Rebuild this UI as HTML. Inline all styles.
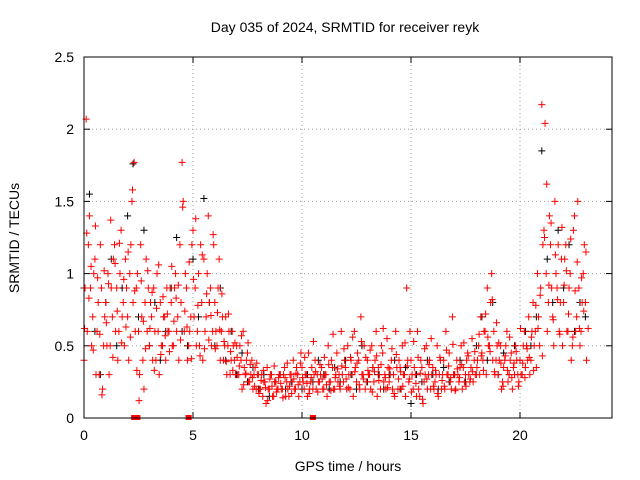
<!DOCTYPE html>
<html><head><meta charset="utf-8"><style>
body{margin:0;background:#fff}
svg{display:block;font-family:"Liberation Sans",sans-serif}
</style></head><body>
<svg id="chart" width="640" height="480">
<rect width="640" height="480" fill="#fff"/>
<text x="345" y="32" text-anchor="middle" font-size="14">Day 035 of 2024, SRMTID for receiver reyk</text>
<text x="348" y="471" text-anchor="middle" font-size="14">GPS time / hours</text>
<text transform="translate(19,238) rotate(-90)" text-anchor="middle" font-size="14">SRMTID / TECUs</text>
<g id="grid"></g>
<g id="ticks"></g>
<g id="black"></g>
<g id="red"></g>
<rect x="84" y="57" width="528" height="361" fill="none" stroke="#000"/>
</svg>
<script>
const xTicks=[0,5,10,15,20];
const yTicks=[0,0.5,1,1.5,2,2.5];
const yTickLabels=["0","0.5","1","1.5","2","2.5"];
const step=0.1;
const red1=[0.4,2.07,1.2,0.9,0.7,1.1,0.6,0.3,0.9,0.5,0.8,1.0,0.5,0.7,1.2,0.9,0.6,1.3,0.8,1.1,0.7,1.0,1.5,1.77,0.9,0.6,1.2,0.4,0.8,0.6,0.5,0.7,0.9,0.4,0.6,0.8,0.5,0.7,0.9,0.6,0.8,0.5,1.0,0.7,1.2,1.77,0.6,0.9,0.5,0.7,1.3,0.9,0.6,0.5,0.8,1.1,0.7,1.4,0.9,0.6,0.8,0.5,1.1,0.6,0.4,0.7,0.5,0.3,0.6,0.4,0.5,0.3,0.4,0.6,0.3,0.45,0.25,0.4,0.3,0.2,0.3,0.2,0.15,0.25,0.35,0.2,0.3,0.15,0.25,0.2,0.3,0.2,0.35,0.25,0.15,0.3,0.4,0.2,0.3,0.25,0.35,0.2,0.3,0.45,0.25,0.2,0.4,0.3,0.25,0.35,0.2,0.3,0.5,0.25,0.35,0.2,0.45,0.3,0.6,0.25,0.35,0.5,0.2,0.3,0.6,0.25,0.4,0.7,0.3,0.2,0.4,0.3,0.5,0.25,0.6,0.35,0.2,0.45,0.3,0.55,0.25,0.4,0.3,0.6,0.2,0.35,0.5,0.3,0.9,0.25,0.4,0.2,0.3,0.6,0.15,0.35,0.25,0.5,0.3,0.2,0.35,0.25,0.5,0.3,0.2,0.4,0.6,0.3,0.25,0.7,0.3,0.4,0.25,0.5,0.35,0.3,0.45,0.25,0.55,0.4,0.3,0.5,0.7,0.4,0.6,0.9,0.5,1.0,0.6,0.4,0.3,0.5,0.25,0.4,0.6,0.3,0.45,0.35,0.5,0.3,0.4,0.3,0.6,0.5,0.7,0.4,0.8,0.6,1.0,0.5,2.17,1.3,1.0,0.8,1.2,0.7,1.5,0.9,0.6,1.1,0.8,1.2,0.6,1.0,0.5,1.4,0.7,0.9,0.6,1.0,0.8];
const red2=[0.9,0.6,1.4,0.5,1.0,0.3,0.8,1.2,0.2,0.7,0.5,0.3,0.9,1.1,0.6,0.4,1.0,0.7,0.5,0.9,0.4,1.2,0.8,0.6,1.0,0.3,0.7,0.2,1.1,0.9,0.8,0.4,0.6,1.0,0.3,0.5,0.7,0.4,0.6,0.9,0.5,0.9,0.6,0.4,0.8,1.5,1.0,0.4,0.6,1.2,0.7,0.5,1.0,1.2,0.4,0.6,1.0,0.8,0.5,1.2,0.6,0.9,0.4,0.7,0.5,0.3,0.6,0.4,0.5,0.3,0.3,0.5,0.2,0.35,0.4,0.25,0.3,0.2,0.35,0.3,0.2,0.3,0.25,0.1,0.2,0.3,0.15,0.25,0.2,0.3,0.2,0.3,0.15,0.2,0.3,0.25,0.2,0.35,0.15,0.45,0.25,0.3,0.15,0.2,0.35,0.3,0.2,0.25,0.3,0.2,0.3,0.15,0.25,0.4,0.2,0.3,0.25,0.2,0.3,0.4,0.2,0.3,0.4,0.15,0.35,0.45,0.2,0.3,0.5,0.25,0.3,0.2,0.35,0.4,0.15,0.3,0.5,0.25,0.2,0.35,0.3,0.2,0.15,0.35,0.4,0.2,0.3,0.15,0.4,0.6,0.3,0.35,0.15,0.2,0.4,0.1,0.3,0.2,0.4,0.3,0.2,0.3,0.15,0.4,0.3,0.2,0.3,0.45,0.2,0.3,0.2,0.3,0.35,0.2,0.25,0.4,0.3,0.35,0.25,0.3,0.4,0.3,0.45,0.6,0.3,0.5,0.8,0.4,0.3,0.5,0.4,0.2,0.35,0.5,0.25,0.4,0.2,0.3,0.4,0.25,0.3,0.5,0.35,0.4,0.3,0.6,0.5,0.35,0.7,0.9,1.2,2.04,0.6,1.4,0.9,0.5,1.0,1.2,0.8,0.5,1.1,0.6,0.9,0.4,1.3,0.6,1.5,0.5,0.8,1.2,0.4];
const red3=[0.62,1.28,0.83,1.05,0.47,1.33,0.97,0.58,0.16,1.02,0.66,0.93,1.37,0.42,1.07,0.74,1.21,0.52,0.96,0.63,1.15,0.56,1.58,0.88,0.33,0.12,0.95,0.67,0.48,1.02,0.62,0.87,0.33,0.76,1.06,0.44,0.84,0.57,0.72,0.46,1.05,0.67,0.83,0.92,0.54,1.46,0.74,0.63,1.08,0.41,0.96,1.38,0.78,0.43,1.13,0.48,0.86,0.54,0.71,1.27,0.48,0.73,0.61,0.86,0.53,0.39,0.72,0.46,0.33,0.52,0.42,0.36,0.57,0.23,0.31,0.52,0.37,0.28,0.22,0.38,0.17,0.26,0.33,0.21,0.12,0.27,0.22,0.36,0.18,0.28,0.24,0.14,0.28,0.38,0.22,0.17,0.27,0.31,0.23,0.38,0.28,0.42,0.24,0.17,0.28,0.53,0.32,0.18,0.37,0.27,0.42,0.23,0.37,0.19,0.58,0.28,0.34,0.22,0.36,0.48,0.27,0.21,0.42,0.56,0.32,0.38,0.23,0.53,0.27,0.42,0.33,0.47,0.18,0.32,0.43,0.26,0.37,0.62,0.28,0.21,0.34,0.48,0.17,0.44,0.27,0.32,0.22,0.52,0.36,0.27,0.18,0.53,0.24,0.42,0.31,0.13,0.48,0.27,0.37,0.55,0.22,0.33,0.17,0.42,0.26,0.22,0.47,0.36,0.28,0.51,0.19,0.34,0.28,0.37,0.52,0.22,0.43,0.27,0.32,0.46,0.35,0.58,0.43,0.33,0.72,0.56,0.46,0.82,0.32,0.66,0.52,0.38,0.22,0.43,0.33,0.56,0.28,0.38,0.46,0.22,0.62,0.38,0.28,0.48,0.42,0.56,0.33,0.78,0.62,0.85,0.43,1.25,1.62,0.92,1.35,0.68,1.13,0.82,0.58,1.32,0.92,1.02,0.72,1.24,0.56,0.88,1.08,0.62,0.97,0.74,1.15,0.62];
const blackStep=0.25;
const black=[0.9,1.55,0.6,0.3,0.8,1.1,0.5,0.9,1.4,1.76,0.7,1.3,0.5,0.8,0.4,0.6,0.9,1.25,0.6,0.5,1.1,0.7,1.52,0.8,0.5,0.9,0.4,0.6,0.3,0.45,0.25,0.35,0.2,0.3,0.15,0.25,0.3,0.2,0.25,0.35,0.2,0.3,0.25,0.4,0.3,0.2,0.35,0.25,0.4,0.3,0.2,0.5,0.25,0.35,0.3,0.2,0.3,0.4,0.2,0.35,0.1,0.3,0.25,0.4,0.3,0.2,0.35,0.25,0.3,0.4,0.25,0.35,0.5,0.7,0.4,0.8,0.3,0.45,0.3,0.5,0.4,0.6,0.5,0.7,1.85,1.1,0.8,1.3,0.9,1.2,0.6,0.8,0.7];
const zeroMarks=[2.3,2.45,4.8,10.5];
const X0=84,X1=612,XMAX=24.22,Y0=418,Y1=57,YMAX=2.5;
const sx=t=>X0+t/XMAX*(X1-X0), sy=v=>Y0-v/YMAX*(Y0-Y1);
const NS="http://www.w3.org/2000/svg";
function mk(tag,attrs,parent){const e=document.createElementNS(NS,tag);for(const k in attrs)e.setAttribute(k,attrs[k]);parent.appendChild(e);return e;}
const grid=document.getElementById('grid'),ticks=document.getElementById('ticks');
xTicks.forEach(t=>{const x=sx(t);
 if(t>0){const g=mk('line',{x1:x,x2:x,y1:Y0,y2:Y1,stroke:'#a0a0a0','stroke-dasharray':'1,3'},grid);}
 mk('line',{x1:x,x2:x,y1:Y0,y2:Y0-6,stroke:'#000'},ticks);mk('line',{x1:x,x2:x,y1:Y1,y2:Y1+6,stroke:'#000'},ticks);
 const l=mk('text',{x:x,y:Y0+22,'text-anchor':'middle','font-size':'14'},ticks);l.textContent=t;
 });
yTicks.forEach((v,i)=>{const y=sy(v);
 if(v>0&&v<YMAX){const g=mk('line',{x1:X0,x2:X1,y1:y,y2:y,stroke:'#a0a0a0','stroke-dasharray':'1,3'},grid);}
 mk('line',{x1:X0,x2:X0+6,y1:y,y2:y,stroke:'#000'},ticks);mk('line',{x1:X1,x2:X1-6,y1:y,y2:y,stroke:'#000'},ticks);
 const l=mk('text',{x:X0-10,y:y+5,'text-anchor':'end','font-size':'14'},ticks);l.textContent=yTickLabels[i];
 });
function plus(g,t,v,c){const x=sx(t),y=sy(v);const p=mk('path',{d:`M${x-3.5},${y}h7M${x},${y-3.5}v7`,stroke:c,'stroke-width':1,fill:'none'},g);
 
 }
const gb=document.getElementById('black'),gr=document.getElementById('red');
black.forEach((v,i)=>plus(gb,i*blackStep,v,'#000'));
red1.forEach((v,i)=>plus(gr,i*step,v,'#f00'));
red2.forEach((v,i)=>plus(gr,i*step+0.05,v,'#f00'));
red3.forEach((v,i)=>plus(gr,i*step+0.025,v,'#f00'));
zeroMarks.forEach(t=>{const r=mk('rect',{x:sx(t)-3,y:Y0-3,width:6,height:5,fill:'#f00'},gr);
 
 });
</script>
</body></html>
